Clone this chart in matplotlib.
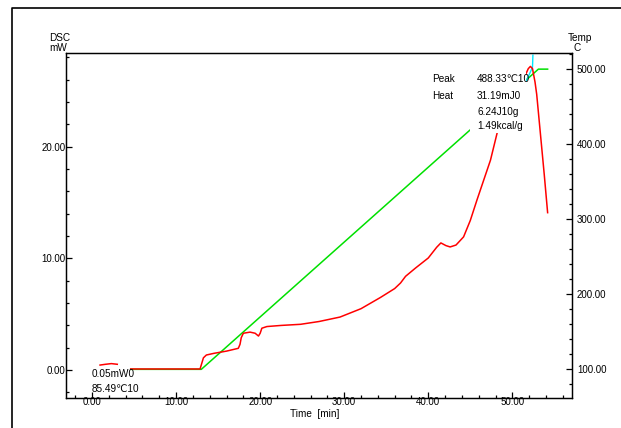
import matplotlib.pyplot as plt
from matplotlib.patches import Rectangle
from matplotlib.lines import Line2D
from matplotlib.ticker import MultipleLocator, FormatStrFormatter

plt.rcParams['font.family'] = ['Liberation Sans', 'DejaVu Sans']

# DSC signal (left axis, mW) -- two pieces
dsc_t1 = [0.95, 1.6, 2.3, 3.0]
dsc_v1 = [0.45, 0.52, 0.58, 0.52]

dsc_t2 = [4.6, 8.0, 12.85, 13.05, 13.25, 13.6, 14.5, 16.0, 17.4, 17.6, 17.75, 18.0,
          18.8, 19.4, 19.8, 20.0, 20.2, 20.8, 22.5, 24.8, 27.0, 29.5, 32.0, 34.3,
          36.0, 36.7, 37.3, 38.5, 40.0, 41.0, 41.5, 42.1, 42.6, 43.3, 44.2, 45.0,
          45.8, 47.4, 48.2, 49.8, 51.0, 51.6, 51.9, 52.15, 52.4, 52.7, 52.9, 53.3,
          53.8, 54.2]
dsc_v2 = [0.1, 0.1, 0.1, 0.6, 1.1, 1.35, 1.5, 1.7, 1.95, 2.3, 2.9, 3.3,
          3.4, 3.3, 3.05, 3.3, 3.75, 3.9, 4.0, 4.1, 4.35, 4.75, 5.5, 6.5,
          7.3, 7.8, 8.4, 9.15, 10.04, 11.0, 11.39, 11.15, 11.03, 11.2, 11.93, 13.4,
          15.25, 18.8, 21.26, 23.9, 25.6, 26.5, 27.0, 27.2, 27.0, 25.8, 24.7, 21.5,
          17.5, 14.1]

# temperature program (right axis, C)
temp_t = [4.6, 13.0, 53.1, 54.2]
temp_v = [99.5, 99.5, 499.5, 499.5]

# short cyan marker near the peak
mark_t = [51.67, 52.4, 52.45]
mark_v = [484, 502, 518]

# peak results, as printed by the instrument
peak_labels = ["Peak", "Heat", "", ""]
peak_values = ["488.33\u210310", "31.19mJ0", "6.24J10g", "1.49kcal/g"]
base_values = ["0.05mW0", "85.49\u210310"]

W, H = 621, 428
fig = plt.figure(figsize=(W / 100, H / 100), dpi=100)
ax = fig.add_axes([66 / W, 1 - 398 / H, 506 / W, 345 / H])
ax2 = ax.twinx()
ax.set_zorder(ax2.get_zorder() + 1)
ax.patch.set_visible(False)

ax.plot(dsc_t1, dsc_v1, color='#ff0000', lw=1.1)
ax.plot(dsc_t2, dsc_v2, color='#ff0000', lw=1.1)
ax2.plot(temp_t, temp_v, color='#00e000', lw=1.1)
ax2.plot(mark_t, mark_v, color='#00e8ff', lw=1.0)

ax.set_xlim(-3.1, 57.1)
ax.set_ylim(-2.5, 28.4)
ax2.set_ylim(61.3, 521)

ax.xaxis.set_major_locator(MultipleLocator(10))
ax.xaxis.set_minor_locator(MultipleLocator(2))
ax.yaxis.set_major_locator(MultipleLocator(10))
ax.yaxis.set_minor_locator(MultipleLocator(2))
ax2.yaxis.set_major_locator(MultipleLocator(100))
ax2.yaxis.set_minor_locator(MultipleLocator(20))
for a in (ax.xaxis, ax.yaxis, ax2.yaxis):
    a.set_major_formatter(FormatStrFormatter('%.2f'))

ax.tick_params(axis='both', which='major', direction='in', length=4, width=0.9,
               labelsize=7, pad=0.5)
ax.tick_params(axis='both', which='minor', direction='in', length=2.5, width=0.9)
ax.tick_params(axis='x', pad=-0.5)
ax2.tick_params(axis='y', which='major', direction='in', length=4, width=0.9,
                labelsize=7, pad=3.5)
ax2.tick_params(axis='y', which='minor', direction='in', length=2.5, width=0.9)
for a in (ax, ax2):
    for s in a.spines.values():
        s.set_linewidth(0.9)

# white box behind the peak results
ax.add_patch(Rectangle((0.798, 0.768), 0.111, 0.177, transform=ax.transAxes,
                       facecolor='white', edgecolor='none', zorder=5))

def px(x, y):
    return x / W, 1 - y / H

fs = 7.2
ys = [79, 96, 112, 126]
for lab, val, y in zip(peak_labels, peak_values, ys):
    if lab:
        fig.text(*px(432, y), lab, fontsize=fs, va='center', zorder=10)
    fig.text(*px(477, y), val, fontsize=fs, va='center', zorder=10)

for val, y in zip(base_values, [374, 389]):
    fig.text(*px(92, y), val, fontsize=fs, va='center', zorder=10)

fig.text(*px(49, 38), "DSC", fontsize=fs, va='center')
fig.text(*px(49, 48), "mW", fontsize=fs, va='center')
fig.text(*px(568, 38), "Temp", fontsize=fs, va='center')
fig.text(*px(573, 48), "C", fontsize=fs, va='center')
fig.text(*px(315, 414), "Time  [min]", fontsize=fs, va='center', ha='center')

# outer frame (top and left edges)
fig.add_artist(Line2D([12 / W, 12 / W, 1.0], [0.0, 1 - 7.5 / H, 1 - 7.5 / H],
                      transform=fig.transFigure, color='black', lw=1.2))

fig.savefig('out.png', dpi=100)
